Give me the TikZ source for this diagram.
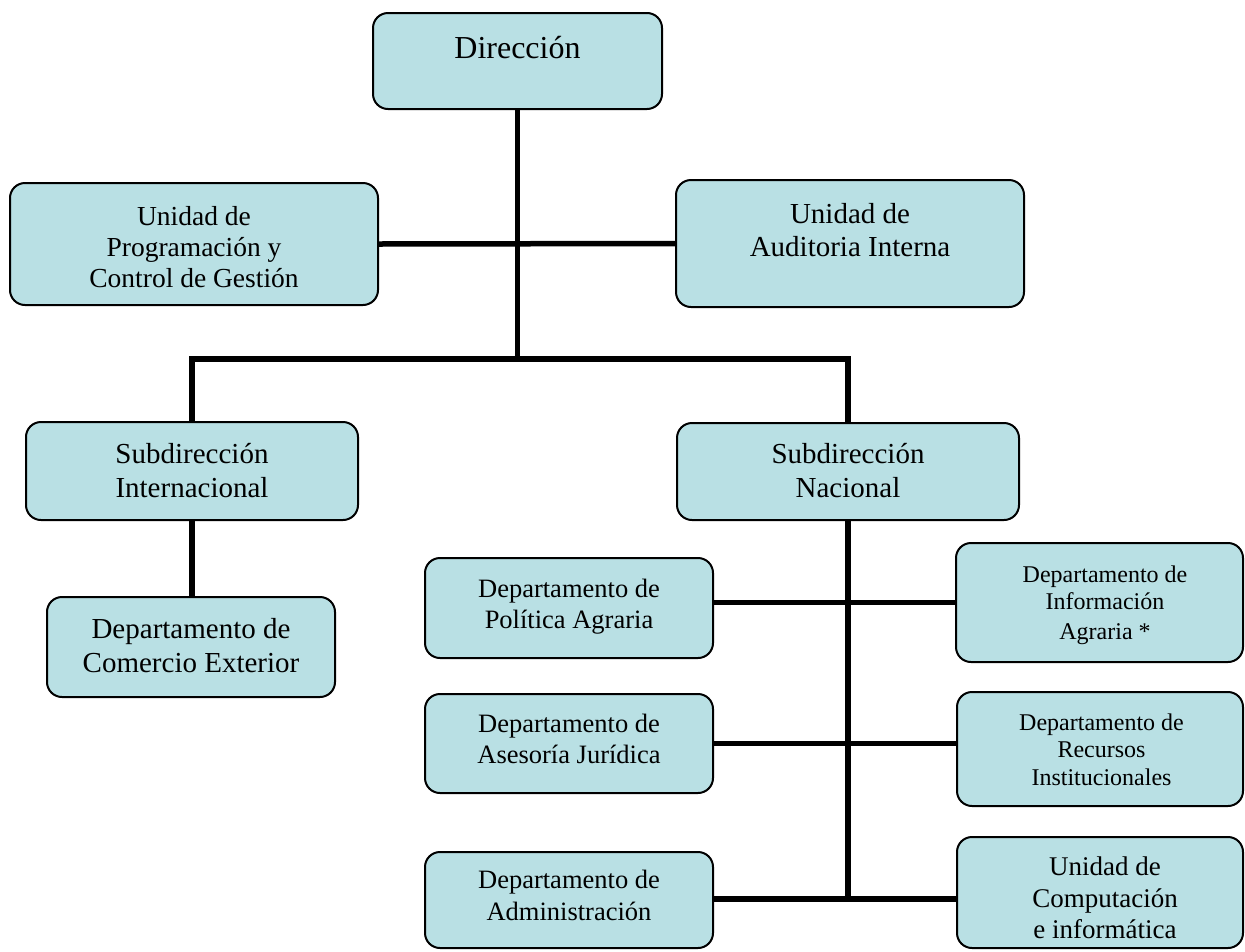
\documentclass[tikz,border=0pt]{standalone}
\usepackage{fontspec}
\setmainfont{Liberation Serif}
\definecolor{boxfill}{RGB}{185,224,228}
\tikzset{
  box/.style={draw=black, line width=2pt, fill=boxfill, rounded corners=15pt, inner sep=0pt},
  conn/.style={draw=black, line width=5.5pt, line join=miter},
  txt/.style={anchor=base, inner sep=0pt, text=black},
  fa/.style={font=\fontsize{32}{36}\selectfont},
  fb/.style={font=\fontsize{29}{33}\selectfont},
  fc/.style={font=\fontsize{27.5}{31}\selectfont},
  fd/.style={font=\fontsize{26.5}{31}\selectfont},
  fe/.style={font=\fontsize{24}{28}\selectfont},
  ff/.style={font=\fontsize{27}{31}\selectfont}
}
\begin{document}
\begin{tikzpicture}[x=1pt,y=-1pt]
\useasboundingbox[fill=white] (0,0) rectangle (1245,951);

\coordinate (hl) at (192,359);
\coordinate (hr) at (848,359);

% boxes
\node[box, minimum width=289pt, minimum height=96pt] (dir) at (517.5,61) {};
\node[box, minimum width=368pt, minimum height=122pt] (prog) at (194,244) {};
\node[box, minimum width=348pt, minimum height=127pt] (aud) at (850,243.5) {};
\node[box, minimum width=332pt, minimum height=98pt] (subint) at (192,471) {};
\node[box, minimum width=342pt, minimum height=97pt] (subnac) at (848,471.5) {};
\node[box, minimum width=288pt, minimum height=100pt] (comercio) at (191,647) {};
\node[box, minimum width=288pt, minimum height=100pt] (polit) at (569,608) {};
\node[box, minimum width=288pt, minimum height=99pt] (asesoria) at (569,743.5) {};
\node[box, minimum width=288pt, minimum height=96pt] (admin) at (569,900) {};
\node[box, minimum width=287pt, minimum height=119pt] (info) at (1099.5,602.5) {};
\node[box, minimum width=286pt, minimum height=114pt] (recursos) at (1100,749) {};
\node[box, minimum width=286pt, minimum height=111pt] (comput) at (1100,892.5) {};

% connectors
\draw[conn] (dir.south) -- (dir.south |- hl);
\draw[conn] (prog.east) -- (aud.west);
\draw[conn] (subint.north) |- (hr) -- (subnac.north);
\draw[conn] (subint.south) -- (subint.south |- comercio.north);
\draw[conn] (subnac.south) -- ([yshift=2pt]subnac.south |- admin.east);
\draw[conn] (polit.east |- info.west) -- (info.west);
\draw[conn] (asesoria.east) -- (asesoria.east -| recursos.west);
\draw[conn] ([yshift=1pt]admin.east) -- ([yshift=1pt]admin.east -| comput.west);

% texts
\node[txt, fa] (t-dir) at (517.5,58) {Dirección};

\node[txt, fc] (t-prog1) at (194,225) {Unidad de};
\node[txt, fc] (t-prog2) at (194,256) {Programación y};
\node[txt, fc] (t-prog3) at (194,287) {Control de Gestión};

\node[txt, fb] (t-aud1) at (850,223) {Unidad de};
\node[txt, fb] (t-aud2) at (850,256) {Auditoria Interna};

\node[txt, fb] (t-subint1) at (192,463) {Subdirección};
\node[txt, fb] (t-subint2) at (192,497) {Internacional};

\node[txt, fb] (t-subnac1) at (848,463) {Subdirección};
\node[txt, fb] (t-subnac2) at (848,497) {Nacional};

\node[txt, fb] (t-com1) at (191,638) {Departamento de};
\node[txt, fb] (t-com2) at (191,672) {Comercio Exterior};

\node[txt, fd] (t-pol1) at (569,597) {Departamento de};
\node[txt, fd] (t-pol2) at (569,628) {Política Agraria};

\node[txt, fd] (t-ase1) at (569,732) {Departamento de};
\node[txt, fd] (t-ase2) at (569,763) {Asesoría Jurídica};

\node[txt, fd] (t-adm1) at (569,888) {Departamento de};
\node[txt, fd] (t-adm2) at (569,920) {Administración};

\node[txt, fe] (t-inf1) at (1105,582) {Departamento de};
\node[txt, fe] (t-inf2) at (1105,609) {Información};
\node[txt, fe] (t-inf3) at (1105,639) {Agraria *};

\node[txt, fe] (t-rec1) at (1101.5,730) {Departamento de};
\node[txt, fe] (t-rec2) at (1101.5,757) {Recursos};
\node[txt, fe] (t-rec3) at (1101.5,785) {Institucionales};

\node[txt, ff] (t-cmp1) at (1105,875) {Unidad de};
\node[txt, ff] (t-cmp2) at (1105,907) {Computación};
\node[txt, ff] (t-cmp3) at (1105,938) {e informática};
\end{tikzpicture}
\end{document}
